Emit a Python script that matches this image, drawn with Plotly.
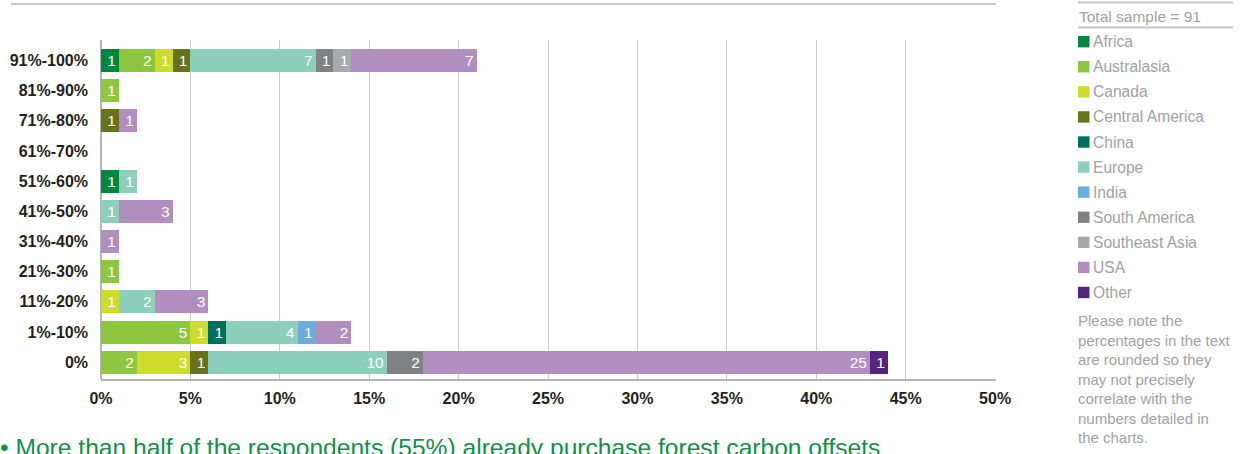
import plotly.graph_objects as go

# Response bands, bottom to top
categories = ["0%", "1%-10%", "11%-20%", "21%-30%", "31%-40%", "41%-50%",
              "51%-60%", "61%-70%", "71%-80%", "81%-90%", "91%-100%"]

# Respondents per region in each band (None = no respondents)
africa          = [None, None, None, None, None, None, 1, None, None, None, 1]
australasia     = [2, 5, None, 1, None, None, None, None, None, 1, 2]
canada          = [3, 1, 1, None, None, None, None, None, None, None, 1]
central_america = [1, None, None, None, None, None, None, None, 1, None, 1]
china           = [None, 1, None, None, None, None, None, None, None, None, None]
europe          = [10, 4, 2, None, None, 1, 1, None, None, None, 7]
india           = [None, 1, None, None, None, None, None, None, None, None, None]
south_america   = [2, None, None, None, None, None, None, None, None, None, 1]
southeast_asia  = [None, None, None, None, None, None, None, None, None, None, 1]
usa             = [25, 2, 3, None, 1, 3, None, None, 1, None, 7]
other           = [1, None, None, None, None, None, None, None, None, None, None]

region_names = ["Africa", "Australasia", "Canada", "Central America", "China",
                "Europe", "India", "South America", "Southeast Asia", "USA", "Other"]
region_values = [africa, australasia, canada, central_america, china, europe,
                 india, south_america, southeast_asia, usa, other]
region_colors = ["#00873f", "#8dc63f", "#cddc2b", "#68721a", "#006f5f",
                 "#8ccfba", "#6aaee0", "#808184", "#a7a9ac", "#b28ec0", "#54237d"]

x_ticks = [0, 5, 10, 15, 20, 25, 30, 35, 40, 45, 50]
sample_label = "Total sample = 91"
note_lines = ["Please note the", "percentages in the text", "are rounded so they",
              "may not precisely", "correlate with the", "numbers detailed in",
              "the charts."]
footer_text = "\u2022 More than half of the respondents (55%) already purchase forest carbon offsets"

FONT = "Liberation Sans, Arial, Helvetica, sans-serif"
W, H = 1245, 454
L, R, T, B = 101, 996, 40, 379.3

def px(xp):
    return (xp - L) / (R - L)

def py(yp):
    return (B - yp) / (B - T)

fig = go.Figure()
for name, vals, col in zip(region_names, region_values, region_colors):
    fig.add_trace(go.Bar(
        y=categories, x=vals, name=name, orientation="h",
        marker=dict(color=col, line=dict(width=0)),
        text=[("" if v is None else str(v)) for v in vals],
        textposition="inside", insidetextanchor="end", textangle=0,
        textfont=dict(color="white", size=15.5, family=FONT),
        constraintext="none", cliponaxis=False, hoverinfo="skip",
    ))

shapes = []
annotations = []

# rule across the top of the chart
shapes.append(dict(type="line", xref="paper", yref="paper",
                   x0=px(11), x1=px(996), y0=py(4), y1=py(4),
                   line=dict(color="#c4c4c6", width=2)))

# key panel on the right
shapes.append(dict(type="line", xref="paper", yref="paper",
                   x0=px(1078), x1=px(1233), y0=py(2.5), y1=py(2.5),
                   line=dict(color="#c4c4c6", width=2)))
shapes.append(dict(type="line", xref="paper", yref="paper",
                   x0=px(1078), x1=px(1233), y0=py(27.5), y1=py(27.5),
                   line=dict(color="#c4c4c6", width=2)))
annotations.append(dict(xref="paper", yref="paper", x=px(1077), y=py(16),
                        xanchor="left", yanchor="middle", showarrow=False,
                        text=sample_label,
                        font=dict(family=FONT, size=15.5, color="#9fa1a4")))
for i, (name, col) in enumerate(zip(region_names, region_colors)):
    cy = 41.7 + 25.1 * i
    shapes.append(dict(type="rect", xref="paper", yref="paper",
                       x0=px(1078), x1=px(1089.5), y0=py(cy - 5.7), y1=py(cy + 5.7),
                       fillcolor=col, line=dict(width=0)))
    annotations.append(dict(xref="paper", yref="paper", x=px(1091), y=py(cy),
                            xanchor="left", yanchor="middle", showarrow=False,
                            text=name,
                            font=dict(family=FONT, size=15.6, color="#9fa1a4")))
annotations.append(dict(xref="paper", yref="paper", x=px(1076), y=py(379),
                        xanchor="left", yanchor="middle", showarrow=False,
                        align="left", text="<br>".join(note_lines),
                        font=dict(family=FONT, size=15, color="#9fa1a4")))

# headline beneath the chart
annotations.append(dict(xref="paper", yref="paper", x=px(-2), y=py(432),
                        xanchor="left", yanchor="top", showarrow=False,
                        text=footer_text,
                        font=dict(family=FONT, size=24.6, color="#11904a")))

fig.update_layout(
    width=W, height=H, barmode="stack", bargap=0.24,
    margin=dict(l=L, r=W - R, t=T, b=H - B, pad=0, autoexpand=False),
    paper_bgcolor="white", plot_bgcolor="white",
    showlegend=False, font=dict(family=FONT),
    shapes=shapes, annotations=annotations,
    xaxis=dict(range=[0, 50.05], tickvals=x_ticks,
               ticktext=[f"{t}%" for t in x_ticks],
               showgrid=True, gridcolor="#cbcbcb", gridwidth=1.3,
               zeroline=True, zerolinecolor="#b5b5b5", zerolinewidth=1.5,
               showline=True, linecolor="#b5b5b5", linewidth=1.5,
               ticks="", ticklabelstandoff=4, automargin=False,
               tickfont=dict(family=FONT, size=16, color="#231f20", weight="bold"),
               fixedrange=True),
    yaxis=dict(categoryorder="array", categoryarray=categories,
               range=[-0.556, 10.68], showgrid=False, zeroline=False,
               showline=False, ticks="", ticklabelstandoff=12, automargin=False,
               tickfont=dict(family=FONT, size=16, color="#231f20", weight="bold"),
               fixedrange=True),
)

fig.write_html("out.html", config={"displayModeBar": False})
